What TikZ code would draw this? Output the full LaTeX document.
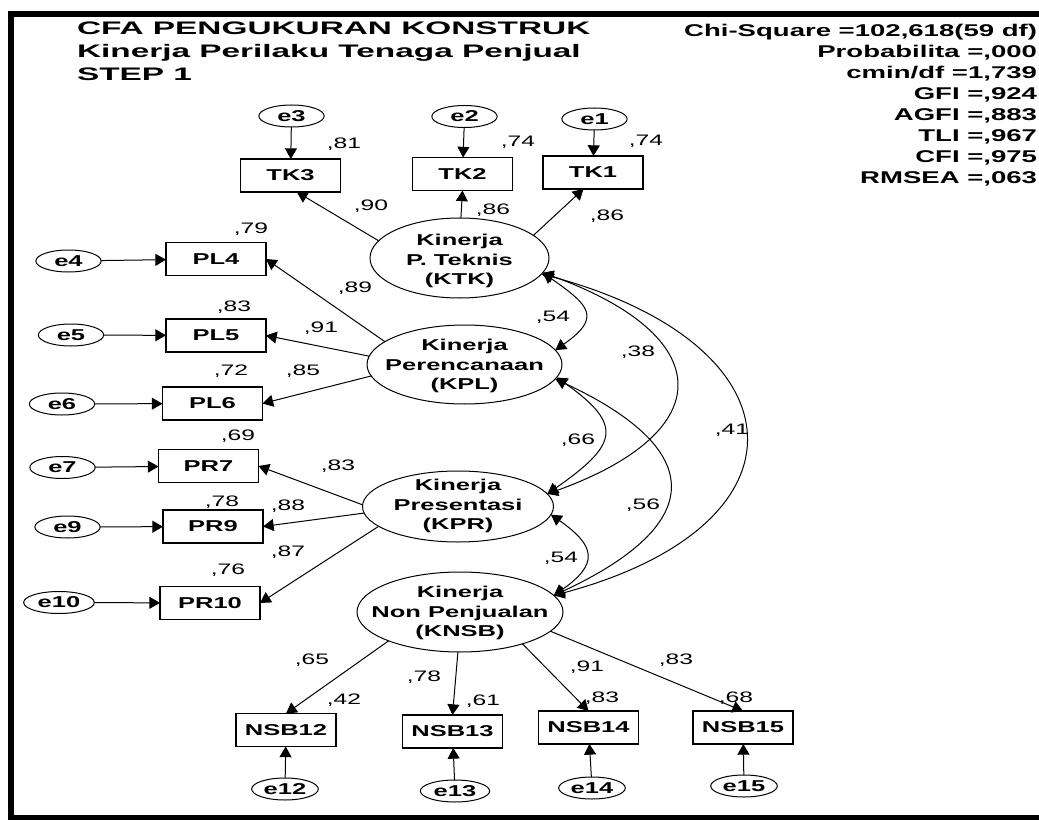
\documentclass[tikz,border=0pt]{standalone}
\usepackage{fontspec}
\setmainfont{Liberation Sans}
\newfontfamily\dgfont{Liberation Sans}[FakeStretch=1.62]
\newfontfamily\ttlfont{Liberation Sans}[FakeStretch=1.84]
\usetikzlibrary{arrows.meta,shapes.geometric}

\begin{document}
\begin{tikzpicture}[x=0.75pt,y=-0.75pt,
  every node/.style={inner sep=0pt, outer sep=0pt},
  obs/.style={draw, line width=0.8pt, rectangle, minimum width=75pt, minimum height=24.75pt,
    font=\dgfont\bfseries\fontsize{11.8}{14}\selectfont},
  err/.style={draw, line width=0.75pt, ellipse, minimum width=49pt, minimum height=16.5pt,
    font=\dgfont\bfseries\fontsize{11.8}{14}\selectfont},
  lat/.style={draw, line width=0.75pt, ellipse},
  lattext/.style={align=center, font=\dgfont\bfseries\fontsize{11.8}{14.6}\selectfont},
  coef/.style={font=\dgfont\fontsize{11.4}{13}\selectfont},
  tip/.tip={Triangle[length=8pt,width=9pt]},
  load/.style={line width=0.75pt, -tip},
  cov/.style={line width=0.75pt, tip-tip},
  stat/.style={anchor=base east, font=\dgfont\bfseries\fontsize{12.75}{15}\selectfont},
  ttl/.style={anchor=base west, font=\ttlfont\bfseries\fontsize{13.6}{17}\selectfont}
]
\useasboundingbox (0,0) rectangle (1039,820);

% frame
\fill (8,11) rectangle (1039,17);
\fill (8,11) rectangle (14,820);
\fill (8,815) rectangle (1039,820);

% title
\node[ttl] (t1) at (77,35) {CFA PENGUKURAN KONSTRUK};
\node[ttl] (t2) at (77,58) {Kinerja Perilaku Tenaga Penjual};
\node[ttl] (t3) at (77,81) {STEP 1};

% fit statistics
\node[stat] (s1) at (1037,37) {Chi-Square =102,618(59 df)};
\node[stat] (s2) at (1037,58) {Probabilita =,000};
\node[stat] (s3) at (1037,79) {cmin/df =1,739};
\node[stat] (s4) at (1037,100) {GFI =,924};
\node[stat] (s5) at (1037,121) {AGFI =,883};
\node[stat] (s6) at (1037,142) {TLI =,967};
\node[stat] (s7) at (1037,163) {CFI =,975};
\node[stat] (s8) at (1037,184) {RMSEA =,063};

% latent constructs
\node[lat, minimum width=134.25pt, minimum height=60pt] (KTK) at (459.5,258) {};
\node[lattext] (KTKt) at (459.5,261) {Kinerja\\P. Teknis\\(KTK)};
\node[lat, minimum width=146.25pt, minimum height=59.25pt] (KPL) at (464.5,364.5) {};
\node[lattext] (KPLt) at (464.5,366) {Kinerja\\Perencanaan\\(KPL)};
\node[lat, minimum width=143.25pt, minimum height=53.25pt] (KPR) at (458,506.5) {};
\node[lattext] (KPRt) at (458,506) {Kinerja\\Presentasi\\(KPR)};
\node[lat, minimum width=154.5pt, minimum height=60pt] (KNSB) at (460,612) {};
\node[lattext] (KNSBt) at (460,613) {Kinerja\\Non Penjualan\\(KNSB)};

% indicators
\node[obs] (TK3) at (290.5,175.5) {TK3};
\node[obs] (TK2) at (462.5,174) {TK2};
\node[obs] (TK1) at (593,172.5) {TK1};
\node[obs] (PL4) at (216,259) {PL4};
\node[obs] (PL5) at (216,335.5) {PL5};
\node[obs] (PL6) at (212.5,403.5) {PL6};
\node[obs] (PR7) at (208.5,466) {PR7};
\node[obs] (PR9) at (213,526.5) {PR9};
\node[obs] (PR10) at (210,603) {PR10};
\node[obs] (NSB12) at (286,730) {NSB12};
\node[obs] (NSB13) at (452.5,731.5) {NSB13};
\node[obs] (NSB14) at (588.5,727.5) {NSB14};
\node[obs] (NSB15) at (743,727.5) {NSB15};

% error terms
\node[err] (e3) at (291.5,116) {e3};
\node[err] (e2) at (464.5,116.5) {e2};
\node[err] (e1) at (594.5,119) {e1};
\node[err] (e4) at (68.5,261) {e4};
\node[err] (e5) at (71,335) {e5};
\node[err] (e6) at (62,404) {e6};
\node[err] (e7) at (62.5,467.5) {e7};
\node[err] (e9) at (67.5,527) {e9};
\node[err, minimum width=53pt] (e10) at (59,602.5) {e10};
\node[err, minimum width=50pt] (e12) at (285,789) {e12};
\node[err, minimum width=52pt] (e13) at (455,791) {e13};
\node[err, minimum width=50pt] (e14) at (592,788) {e14};
\node[err, minimum width=50pt] (e15) at (744,786) {e15};

% error paths
\draw[load] (e3) -- (TK3);
\draw[load] (e2) -- (TK2);
\draw[load] (e1) -- (TK1);
\draw[load] (e4) -- (PL4);
\draw[load] (e5) -- (PL5);
\draw[load] (e6) -- (PL6);
\draw[load] (e7) -- (PR7);
\draw[load] (e9) -- (PR9);
\draw[load] (e10) -- (PR10);
\draw[load] (e12) -- (NSB12);
\draw[load] (e13) -- (NSB13);
\draw[load] (e14) -- (NSB14);
\draw[load] (e15) -- (NSB15);

% loadings
\draw[load] (KTK.168) -- (TK3.-69);
\draw[load] (KTK.88) -- (TK2.south);
\draw[load] (KTK.17) -- (TK1.-120);
\draw[load] (KPL.164) -- (PL4.east);
\draw[load] (KPL.175.5) -- (PL5.east);
\draw[load] (KPL.-173) -- (PL6.east);
\draw[load] (KPR.179) -- (PR7.east);
\draw[load] (KPR.-176) -- (PR9.east);
\draw[load] (KPR.-166) -- (PR10.east);
\draw[load] (KNSB.-158) -- (NSB12.north);
\draw[load] (KNSB.-93) -- (NSB13.north);
\draw[load] (KNSB.-27) -- (NSB14.north);
\draw[load] (KNSB.-12) -- (NSB15.north);

% covariances
\draw[cov] (KTK.-10) .. controls +(46.7,32.7) and +(46.7,-32.7) .. (KPL.9);
\draw[cov] (KTK.-10) .. controls +(174,63) and +(174,-63) .. (KPR.8);
\draw[cov] (KTK.-11) .. controls +(263,70.6) and +(263,-70.6) .. (KNSB.10);
\draw[cov] (KPL.-8) .. controls +(68.8,48.2) and +(68.8,-48.2) .. (KPR.8.5);
\draw[cov] (KPL.-9) .. controls +(152.7,71.3) and +(152.7,-71.3) .. (KNSB.10.5);
\draw[cov] (KPR.-5) .. controls +(45,31.5) and +(45,-31.5) .. (KNSB.10);

% coefficients
\node[coef] (r1) at (344,144) {,81};
\node[coef] (r2) at (518,142) {,74};
\node[coef] (r3) at (646,141) {,74};
\node[coef] (l1) at (371,206) {,90};
\node[coef] (l2) at (493,210) {,86};
\node[coef] (l3) at (607,216) {,86};
\node[coef] (r4) at (251,229) {,79};
\node[coef] (l4) at (355,288) {,89};
\node[coef] (r5) at (234,307) {,83};
\node[coef] (l5) at (321,328) {,91};
\node[coef] (r6) at (231,371) {,72};
\node[coef] (l6) at (303,371) {,85};
\node[coef] (r7) at (238,436) {,69};
\node[coef] (l7) at (338,466) {,83};
\node[coef] (r9) at (222,502) {,78};
\node[coef] (l9) at (288,506) {,88};
\node[coef] (l10) at (288,552) {,87};
\node[coef] (r10) at (228,570) {,76};
\node[coef] (c1) at (553,317) {,54};
\node[coef] (c2) at (638,352) {,38};
\node[coef] (c3) at (732,430) {,41};
\node[coef] (c4) at (578,440) {,66};
\node[coef] (c5) at (643,505) {,56};
\node[coef] (c6) at (561,558) {,54};
\node[coef] (l12) at (312,660) {,65};
\node[coef] (r12) at (344,700) {,42};
\node[coef] (l13) at (424,677) {,78};
\node[coef] (r13) at (483,701) {,61};
\node[coef] (l14) at (587,667) {,91};
\node[coef] (r14) at (602,698) {,83};
\node[coef] (l15) at (676,660) {,83};
\node[coef] (r15) at (736,698) {,68};
\end{tikzpicture}
\end{document}
